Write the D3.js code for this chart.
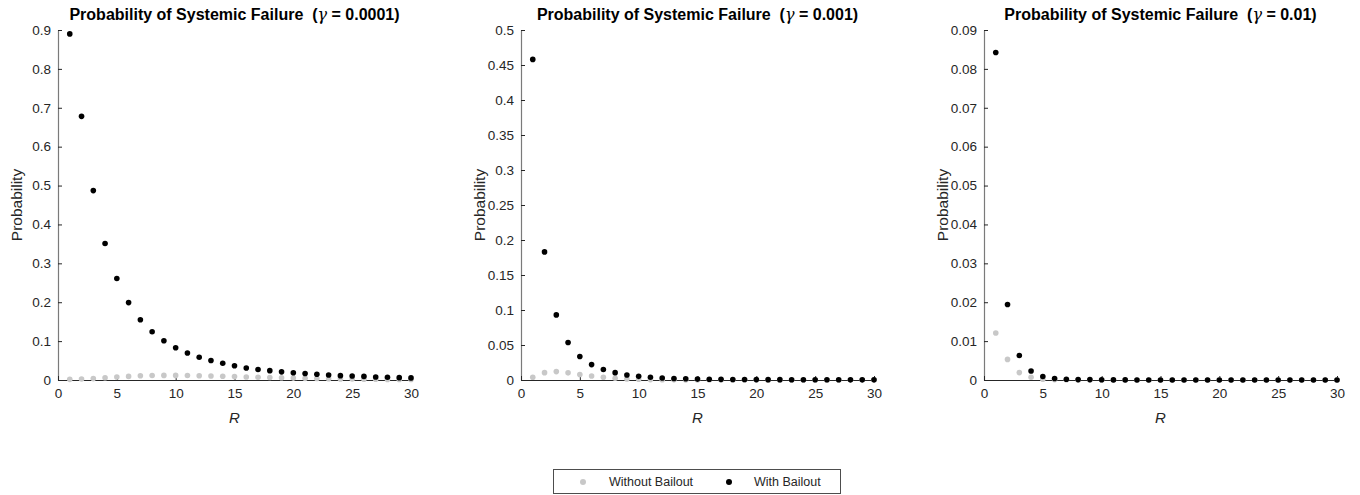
<!DOCTYPE html>
<html>
<head>
<meta charset="utf-8">
<script src="https://cdn.jsdelivr.net/npm/d3@7"></script>
<style>
  html, body { margin: 0; padding: 0; background: #fff; }
  svg { display: block; font-family: "Liberation Sans", Arial, Helvetica, sans-serif; }
</style>
</head>
<body>
<svg id="chart" width="1360" height="495"></svg>
<script>
// Number of rescue rounds R on the x axis
const rounds = d3.range(1, 31);

// Panel parameters
const gammas = ["0.0001", "0.001", "0.01"];
const yMax = [0.9, 0.5, 0.09];
const yStep = [0.1, 0.05, 0.01];
const xTicks = [0, 5, 10, 15, 20, 25, 30];

// gamma = 0.0001
const withBailout1 = [0.890, 0.678, 0.487, 0.351, 0.261, 0.199, 0.155, 0.124, 0.101, 0.083,
  0.0695, 0.0585, 0.050, 0.043, 0.0365, 0.031, 0.027, 0.024, 0.021, 0.0186,
  0.0168, 0.0146, 0.0128, 0.0112, 0.0101, 0.0092, 0.0078, 0.0069, 0.0061, 0.0054];
const withoutBailout1 = [0.0017, 0.0026, 0.0036, 0.0058, 0.0076, 0.0093, 0.0108, 0.0114, 0.0118, 0.0118,
  0.0115, 0.0110, 0.0103, 0.0095, 0.0087, 0.0079, 0.0071, 0.0063, 0.0056, 0.0049,
  0.0043, 0.0037, 0.0032, 0.0028, 0.0024, 0.0021, 0.0018, 0.0015, 0.0013, 0.0011];

// gamma = 0.001
const withBailout2 = [0.458, 0.183, 0.093, 0.0535, 0.0335, 0.022, 0.015, 0.0105, 0.0072, 0.0052,
  0.0039, 0.0029, 0.0022, 0.0017, 0.0013, 0.0011, 0.0009, 0.0008, 0.0007, 0.0006,
  0.0005, 0.0005, 0.0004, 0.0004, 0.0003, 0.0003, 0.0003, 0.0002, 0.0002, 0.0002];
const withoutBailout2 = [0.0040, 0.0105, 0.0120, 0.0102, 0.0078, 0.0057, 0.0040, 0.0026, 0.0016, 0.0010,
  0.0006, 0.0004, 0.0002, 0.0001, 0.0001, 0.0001, 0.0000, 0.0000, 0.0000, 0.0000,
  0.0000, 0.0000, 0.0000, 0.0000, 0.0000, 0.0000, 0.0000, 0.0000, 0.0000, 0.0000];

// gamma = 0.01
const withBailout3 = [0.0842, 0.0194, 0.0063, 0.0023, 0.0009, 0.0004, 0.0002, 0.0001, 0.0001, 0.00005,
  0.00003, 0.00002, 0.00001, 0.00001, 0, 0, 0, 0, 0, 0,
  0, 0, 0, 0, 0, 0, 0, 0, 0, 0];
const withoutBailout3 = [0.0121, 0.0053, 0.0019, 0.0007, 0.0002, 0.0001, 0.00005, 0.00002, 0.00001, 0,
  0, 0, 0, 0, 0, 0, 0, 0, 0, 0,
  0, 0, 0, 0, 0, 0, 0, 0, 0, 0];

const withSeries = [withBailout1, withBailout2, withBailout3];
const withoutSeries = [withoutBailout1, withoutBailout2, withoutBailout3];

const seriesNames = ["Without Bailout", "With Bailout"];
const seriesColors = ["#c8c8c8", "#000000"];

const svg = d3.select("#chart");
const axisColor = "#262626";

const panelLeft = [58, 521, 984];
const panelWidth = 353;
const plotTop = 30, plotBottom = 380;

gammas.forEach((g, i) => {
  const x = d3.scaleLinear().domain([0, 30]).range([panelLeft[i], panelLeft[i] + panelWidth]);
  const y = d3.scaleLinear().domain([0, yMax[i]]).range([plotBottom, plotTop]);
  const yTicks = d3.range(0, Math.round(yMax[i] / yStep[i]) + 1).map(k => +(k * yStep[i]).toFixed(4));

  const gp = svg.append("g");

  // y axis (ticks point inward)
  const ya = gp.append("g")
    .attr("transform", `translate(${panelLeft[i]},0)`)
    .call(d3.axisLeft(y).tickValues(yTicks).tickSizeInner(-4).tickSizeOuter(0).tickPadding(7)
      .tickFormat(d => d === 0 ? "0" : String(d)));
  ya.select(".domain").attr("stroke", "#7a7a7a").attr("stroke-width", 1.2);
  ya.selectAll(".tick line").attr("stroke", axisColor);
  ya.selectAll(".tick text").attr("fill", axisColor).style("font-size", "13.5px")
    .style("font-family", "Liberation Sans, Arial, sans-serif");

  // x axis
  const xa = gp.append("g")
    .attr("transform", `translate(0,${plotBottom})`)
    .call(d3.axisBottom(x).tickValues(xTicks).tickSizeInner(-4).tickSizeOuter(0).tickPadding(8));
  xa.select(".domain").attr("stroke", axisColor).attr("stroke-width", 1);
  xa.selectAll(".tick line").attr("stroke", axisColor);
  xa.selectAll(".tick text").attr("fill", axisColor).style("font-size", "13.5px")
    .style("font-family", "Liberation Sans, Arial, sans-serif");

  // series: without bailout underneath, with bailout on top
  [withoutSeries[i], withSeries[i]].forEach((vals, s) => {
    gp.append("g").selectAll("circle")
      .data(rounds.map((r, k) => [r, vals[k]]))
      .join("circle")
      .attr("cx", d => x(d[0]))
      .attr("cy", d => y(d[1]))
      .attr("r", 2.8)
      .attr("fill", seriesColors[s]);
  });

  // axis labels
  gp.append("text")
    .attr("x", x(15)).attr("y", 423)
    .attr("text-anchor", "middle")
    .attr("fill", axisColor)
    .style("font-size", "15px").style("font-style", "italic")
    .text("R");

  gp.append("text")
    .attr("transform", `translate(${panelLeft[i] - 36},${(plotTop + plotBottom) / 2}) rotate(-90)`)
    .attr("text-anchor", "middle")
    .attr("fill", axisColor)
    .style("font-size", "15.5px")
    .text("Probability");

  // title
  const t = gp.append("text")
    .attr("x", x(15)).attr("y", 20)
    .attr("text-anchor", "middle")
    .attr("fill", "#000")
    .style("font-size", "16px").style("font-weight", "bold");
  t.append("tspan").text("Probability of Systemic Failure\u00a0\u00a0(");
  t.append("tspan").style("font-style", "italic").style("font-family", "DejaVu Serif, serif").style("font-weight", "normal").text("γ");
  t.append("tspan").text(` = ${g})`);
});

// legend
const lg = svg.append("g");
lg.append("rect")
  .attr("x", 553.5).attr("y", 469.5).attr("width", 287).attr("height", 24)
  .attr("fill", "#fff").attr("stroke", "#4d4d4d").attr("stroke-width", 1);
const legendMarkX = [583, 729];
const legendTextX = [609, 754];
seriesNames.forEach((name, s) => {
  lg.append("circle").attr("cx", legendMarkX[s]).attr("cy", 482).attr("r", 3)
    .attr("fill", seriesColors[s]);
  lg.append("text").attr("x", legendTextX[s]).attr("y", 486)
    .attr("fill", axisColor).style("font-size", "12.5px").text(name);
});
</script>
</body>
</html>
